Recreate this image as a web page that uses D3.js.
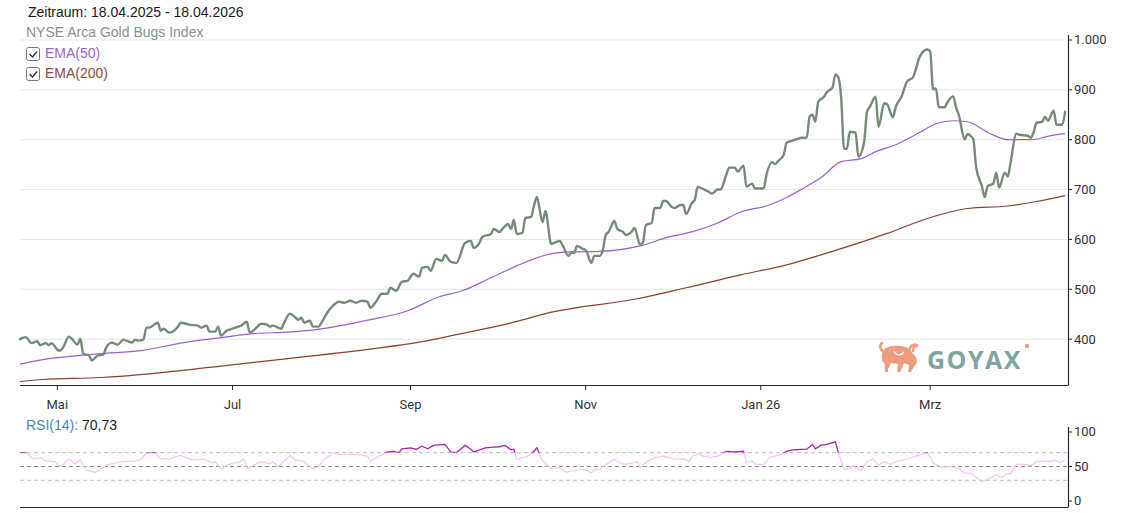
<!DOCTYPE html>
<html>
<head>
<meta charset="utf-8">
<script src="https://cdn.jsdelivr.net/npm/d3@7"></script>
<style>
  body { margin: 0; background: #fff; }
  svg { display: block; }
</style>
</head>
<body>
<svg></svg>
<script>
// NYSE Arca Gold Bugs Index
var priceSeries = [
  ["2025-04-18",400],["2025-04-20",404],["2025-04-22",392],["2025-04-24",396],["2025-04-25",388],["2025-04-27",392],["2025-04-28",388],["2025-04-29",392],
  ["2025-05-01",379],["2025-05-02",377],["2025-05-03",383],["2025-05-05",405],["2025-05-06",401],["2025-05-08",389],["2025-05-09",401],["2025-05-10",371],
  ["2025-05-12",367],["2025-05-13",357],["2025-05-15",367],["2025-05-17",369],["2025-05-18",383],["2025-05-20",393],["2025-05-22",389],["2025-05-24",399],
  ["2025-05-25",397],["2025-05-27",393],["2025-05-28",399],["2025-05-29",397],["2025-05-31",399],
  ["2025-06-01",423],["2025-06-02",423],["2025-06-05",433],["2025-06-06",417],["2025-06-07",421],["2025-06-09",413],["2025-06-12",425],["2025-06-13",433],
  ["2025-06-16",429],["2025-06-19",427],["2025-06-20",423],["2025-06-22",427],["2025-06-23",415],["2025-06-25",415],["2025-06-26",425],["2025-06-27",407],
  ["2025-06-29",417],["2025-06-30",419],
  ["2025-07-03",425],["2025-07-04",427],["2025-07-06",435],["2025-07-07",413],["2025-07-09",421],["2025-07-11",431],["2025-07-13",429],["2025-07-14",425],
  ["2025-07-15",427],["2025-07-18",421],["2025-07-19",433],["2025-07-21",451],["2025-07-23",443],["2025-07-24",439],["2025-07-25",443],["2025-07-26",433],
  ["2025-07-28",437],["2025-07-29",425],["2025-07-31",425],
  ["2025-08-01",433],["2025-08-03",453],["2025-08-05",467],["2025-08-07",475],["2025-08-09",473],["2025-08-11",477],["2025-08-13",473],["2025-08-15",477],
  ["2025-08-17",475],["2025-08-18",463],["2025-08-20",475],["2025-08-22",491],["2025-08-24",491],["2025-08-25",503],["2025-08-27",497],["2025-08-29",515],
  ["2025-08-31",517],
  ["2025-09-01",525],["2025-09-02",531],["2025-09-04",525],["2025-09-05",543],["2025-09-07",545],["2025-09-08",537],["2025-09-10",561],["2025-09-12",557],
  ["2025-09-13",569],["2025-09-15",555],["2025-09-17",553],["2025-09-20",593],["2025-09-22",597],["2025-09-23",583],["2025-09-25",593],["2025-09-26",605],
  ["2025-09-29",611],["2025-09-30",621],
  ["2025-10-02",615],["2025-10-03",621],["2025-10-05",631],["2025-10-06",621],["2025-10-07",639],["2025-10-08",611],["2025-10-10",613],["2025-10-11",643],
  ["2025-10-13",645],["2025-10-14",667],["2025-10-15",685],["2025-10-17",635],["2025-10-18",657],["2025-10-20",591],["2025-10-21",593],["2025-10-23",597],
  ["2025-10-24",588],["2025-10-26",567],["2025-10-27",573],["2025-10-28",573],["2025-10-29",587],["2025-10-31",581],
  ["2025-11-01",579],["2025-11-03",553],["2025-11-04",567],["2025-11-06",567],["2025-11-07",579],["2025-11-08",609],["2025-11-09",615],["2025-11-11",637],
  ["2025-11-12",621],["2025-11-14",615],["2025-11-15",609],["2025-11-17",615],["2025-11-18",623],["2025-11-20",589],["2025-11-21",595],["2025-11-22",629],
  ["2025-11-24",633],["2025-11-25",663],["2025-11-27",663],["2025-11-28",677],["2025-11-29",677],
  ["2025-12-01",665],["2025-12-02",663],["2025-12-04",669],["2025-12-05",669],["2025-12-06",651],["2025-12-08",673],["2025-12-09",679],["2025-12-10",705],
  ["2025-12-12",701],["2025-12-14",695],["2025-12-15",692],["2025-12-17",700],["2025-12-18",700],["2025-12-20",730],["2025-12-21",744],["2025-12-23",744],
  ["2025-12-24",736],["2025-12-26",748],["2025-12-27",706],["2025-12-29",712],["2025-12-30",702],
  ["2026-01-01",702],["2026-01-02",703],["2026-01-03",730],["2026-01-05",755],["2026-01-06",751],["2026-01-07",757],["2026-01-09",770],["2026-01-10",794],
  ["2026-01-12",798],["2026-01-14",802],["2026-01-15",804],["2026-01-17",804],["2026-01-18",846],["2026-01-19",850],["2026-01-20",836],["2026-01-21",876],
  ["2026-01-23",886],["2026-01-24",895],["2026-01-26",905],["2026-01-27",931],["2026-01-28",925],["2026-01-29",884],["2026-01-30",782],["2026-01-31",782],
  ["2026-02-01",816],["2026-02-03",814],["2026-02-04",766],["2026-02-06",796],["2026-02-07",856],["2026-02-08",866],["2026-02-10",886],["2026-02-11",826],
  ["2026-02-13",873],["2026-02-14",871],["2026-02-16",845],["2026-02-17",866],["2026-02-19",886],["2026-02-21",917],["2026-02-23",925],["2026-02-24",941],
  ["2026-02-25",961],["2026-02-27",979],["2026-02-28",981],
  ["2026-03-01",977],["2026-03-02",901],["2026-03-03",903],["2026-03-04",865],["2026-03-06",865],["2026-03-07",875],["2026-03-09",887],["2026-03-10",865],
  ["2026-03-11",849],["2026-03-13",801],["2026-03-14",811],["2026-03-16",801],["2026-03-17",745],["2026-03-19",707],["2026-03-20",685],["2026-03-21",707],
  ["2026-03-23",712],["2026-03-24",734],["2026-03-25",704],["2026-03-27",734],["2026-03-28",726],["2026-03-29",754],["2026-03-31",812],
  ["2026-04-01",810],["2026-04-04",808],["2026-04-05",804],["2026-04-06",814],["2026-04-07",834],["2026-04-09",836],["2026-04-10",846],["2026-04-11",838],
  ["2026-04-13",858],["2026-04-14",830],["2026-04-16",830],["2026-04-17",856]
];

var ema50Series = [
  ["2025-04-18",350],["2025-04-25",358],["2025-05-10",368],["2025-05-16",371],["2025-05-30",377],["2025-06-14",393],["2025-06-27",403],
  ["2025-07-08",411],["2025-07-20",414],["2025-07-30",419],["2025-08-18",439],["2025-08-31",457],["2025-09-11",485],["2025-09-19",497],
  ["2025-09-29",523],["2025-10-08",547],["2025-10-19",570],["2025-10-27",575],["2025-11-06",576],["2025-11-20",587],["2025-11-30",605],
  ["2025-12-08",615],["2025-12-17",633],["2025-12-25",655],["2026-01-04",669],["2026-01-10",684],["2026-01-15",700],["2026-01-22",724],
  ["2026-01-29",756],["2026-02-05",762],["2026-02-10",776],["2026-02-17",790],["2026-02-27",820],["2026-03-03",832],["2026-03-09",838],
  ["2026-03-14",836],["2026-03-22",812],["2026-03-28",800],["2026-04-05",800],["2026-04-12",808],["2026-04-17",812]
];

var ema200Series = [
  ["2025-04-18",315],["2025-04-26",319],["2025-05-16",323],["2025-06-03",331],["2025-06-27",346],["2025-07-25",364],["2025-08-18",380],
  ["2025-09-05",395],["2025-09-17",409],["2025-10-05",431],["2025-10-21",455],["2025-11-19",481],["2025-12-06",503],["2025-12-25",529],
  ["2026-01-10",549],["2026-01-22",569],["2026-02-14",612],["2026-02-28",642],["2026-03-14",662],["2026-03-28",667],["2026-04-07",676],
  ["2026-04-17",688]
];

var rsiSeries = [
  ["2025-04-18",70],["2025-04-20",70],["2025-04-23",60.5],["2025-04-25",63],["2025-04-27",58],["2025-04-30",57],["2025-05-02",50],["2025-05-03",53],
  ["2025-05-05",61],["2025-05-07",54],["2025-05-09",59.5],["2025-05-11",45],["2025-05-14",41.5],["2025-05-16",45],["2025-05-18",52],["2025-05-21",55],
  ["2025-05-24",57],["2025-05-28",58],["2025-05-30",59.5],["2025-06-01",69],["2025-06-04",70],["2025-06-06",61],["2025-06-09",61],["2025-06-11",64],
  ["2025-06-13",66],["2025-06-16",61],["2025-06-18",59.5],["2025-06-21",60.5],["2025-06-24",55.7],["2025-06-25",57],["2025-06-27",46],["2025-06-29",52],
  ["2025-07-02",55.7],["2025-07-03",55.7],["2025-07-05",61],["2025-07-06",47],["2025-07-09",53],["2025-07-11",57],["2025-07-14",54],["2025-07-15",57],
  ["2025-07-17",50],["2025-07-19",58],["2025-07-21",66],["2025-07-23",59.5],["2025-07-26",57],["2025-07-27",53],["2025-07-29",47],["2025-07-31",50],
  ["2025-08-02",60.5],["2025-08-05",69],["2025-08-08",67.6],["2025-08-13",67.6],["2025-08-17",65],["2025-08-18",57],["2025-08-21",65],["2025-08-24",71],
  ["2025-08-26",72],["2025-08-28",70],["2025-08-29",75.7],["2025-09-01",77],["2025-09-03",75],["2025-09-05",79.5],["2025-09-07",75.7],["2025-09-09",80.5],
  ["2025-09-13",82],["2025-09-15",71],["2025-09-17",70],["2025-09-20",80.5],["2025-09-22",75],["2025-09-23",71],["2025-09-27",77],["2025-09-30",78],
  ["2025-10-02",78.6],["2025-10-04",80.5],["2025-10-06",74],["2025-10-07",75],["2025-10-08",60.5],["2025-10-12",65],["2025-10-14",72],["2025-10-15",77],
  ["2025-10-17",58],["2025-10-20",47],["2025-10-23",48],["2025-10-25",42],["2025-10-28",44],["2025-10-30",46],["2025-11-01",45],["2025-11-03",40.5],
  ["2025-11-04",45],["2025-11-06",46],["2025-11-08",53],["2025-11-11",60.5],["2025-11-13",55],["2025-11-15",53],["2025-11-19",57],["2025-11-20",48.6],
  ["2025-11-22",55.7],["2025-11-25",63],["2025-11-28",65],["2025-11-29",64],["2025-12-02",60.5],["2025-12-05",61],["2025-12-07",57],["2025-12-08",64],
  ["2025-12-10",68.6],["2025-12-12",65],["2025-12-14",63],["2025-12-17",65],["2025-12-20",72],["2025-12-23",71],["2025-12-26",72],["2025-12-27",55.7],
  ["2025-12-29",58],["2025-12-30",53],["2026-01-02",53],["2026-01-04",63],["2026-01-06",65],["2026-01-08",67.6],["2026-01-10",72],["2026-01-12",74],
  ["2026-01-17",75],["2026-01-19",82],["2026-01-20",75.7],["2026-01-22",81],["2026-01-24",82],["2026-01-27",85.7],["2026-01-28",70],["2026-01-30",46],
  ["2026-02-01",47],["2026-02-02",51],["2026-02-05",44],["2026-02-07",57],["2026-02-09",61],["2026-02-11",52],["2026-02-13",57],["2026-02-15",53],
  ["2026-02-17",57],["2026-02-21",60.5],["2026-02-24",65],["2026-02-28",70],["2026-03-02",55],["2026-03-05",48.6],["2026-03-08",50],["2026-03-11",47],
  ["2026-03-13",40.5],["2026-03-15",40.5],["2026-03-17",34],["2026-03-19",28],["2026-03-20",29.5],["2026-03-22",34],["2026-03-24",37.6],["2026-03-26",34],
  ["2026-03-28",40],["2026-03-29",39],["2026-03-31",53],["2026-04-03",53],["2026-04-05",51],["2026-04-07",57],["2026-04-10",58],["2026-04-12",57],
  ["2026-04-13",59.5],["2026-04-15",55.7],["2026-04-16",57],["2026-04-17",59.5]
];

var monthTicks = ["2025-05-01","2025-07-01","2025-09-01","2025-11-01","2026-01-01","2026-03-01"];
var monthLabels = ["Mai","Jul","Sep","Nov","Jan 26","Mrz"];
var priceTicks = [400, 500, 600, 700, 800, 900, 1000];
var rsiTicks = [0, 50, 100];
var rsiLevels = [30, 50, 70];
var rsiLast = "70,73";

var W = 1140, H = 513;
var left = 20, right = 1068;
var parse = d3.timeParse("%Y-%m-%d");
var deNum = d3.formatLocale({decimal: ",", thousands: ".", grouping: [3], currency: ["", "€"]}).format(",d");

var svg = d3.select("svg").attr("width", W).attr("height", H);

var x = d3.scaleTime()
  .domain([parse("2025-04-18"), parse("2026-04-18")])
  .range([left, right]);

var y = d3.scaleLinear().domain([308, 1010]).range([385, 35]);
var yr = d3.scaleLinear().domain([-8.7, 107.2]).range([507, 427]);

var axisColor = "#1f2a36";
var tickFont = "Roboto, 'Liberation Sans', Arial, sans-serif";
var textFont = "'Liberation Sans', Arial, sans-serif";

// grid
svg.append("g")
  .selectAll("line")
  .data(priceTicks)
  .enter()
  .append("line")
  .attr("x1", left).attr("x2", right)
  .attr("y1", function(d) { return y(d); })
  .attr("y2", function(d) { return y(d); })
  .attr("stroke", "#e6e6e6")
  .attr("stroke-width", 1);

// logo (bull + wordmark)
var logo = svg.append("g").attr("transform", "translate(879,341)");
logo.append("path")
  .attr("d", "M4,10 C7,5 14,4 21,5 C25,5 28,6 31,9 L36,15 C39,19 38,24 35,25 L32,31 L29,31 L30,24 L25,22 L23,27 L21,31 L18,31 L19,23 L12,22 L9,28 L9,31 L6,31 L6,23 C2,20 2,14 4,10 Z")
  .attr("fill", "#ec9c80");
logo.append("path")
  .attr("d", "M30,10 C31,4 36,2 39,5 C37,4 34,6 34,10 M5,11 C1,9 0,5 3,2")
  .attr("stroke", "#ec9c80").attr("stroke-width", 2.5).attr("fill", "none")
  .attr("stroke-linecap", "round");
logo.append("path")
  .attr("d", "M15,10 C17,15 22,15 25,11")
  .attr("stroke", "#fff").attr("stroke-width", 1.4).attr("fill", "none");
svg.append("text")
  .attr("x", 927).attr("y", 369)
  .attr("font-family", "'Open Sans', 'Liberation Sans', Arial, sans-serif")
  .attr("font-weight", "bold").attr("font-size", 25)
  .attr("letter-spacing", 1.5)
  .attr("fill", "#7fa5a2")
  .text("GOYAX");
svg.append("circle").attr("cx", 1027).attr("cy", 346).attr("r", 2.2).attr("fill", "#ec9c80");

// lines
function lineFor(scaleY) {
  return d3.line()
    .x(function(d) { return x(parse(d[0])); })
    .y(function(d) { return scaleY(d[1]); });
}

svg.append("path")
  .datum(ema200Series)
  .attr("d", lineFor(y).curve(d3.curveMonotoneX))
  .attr("fill", "none").attr("stroke", "#8e3f30").attr("stroke-width", 1.2);

svg.append("path")
  .datum(ema50Series)
  .attr("d", lineFor(y).curve(d3.curveMonotoneX))
  .attr("fill", "none").attr("stroke", "#9c5fd3").attr("stroke-width", 1.2);

svg.append("path")
  .datum(priceSeries)
  .attr("d", lineFor(y).curve(d3.curveMonotoneX))
  .attr("fill", "none").attr("stroke", "#768a78").attr("stroke-width", 2.4)
  .attr("stroke-linejoin", "round").attr("stroke-linecap", "round");

// price axes
svg.append("line")
  .attr("x1", left).attr("x2", right).attr("y1", 385.5).attr("y2", 385.5)
  .attr("stroke", axisColor).attr("stroke-width", 1.2);
svg.append("line")
  .attr("x1", right + 0.5).attr("x2", right + 0.5).attr("y1", 35).attr("y2", 385.5)
  .attr("stroke", axisColor).attr("stroke-width", 1.2);

var yTicks = svg.append("g").selectAll("g").data(priceTicks).enter().append("g");
yTicks.append("line")
  .attr("x1", right).attr("x2", right + 4)
  .attr("y1", function(d) { return y(d); }).attr("y2", function(d) { return y(d); })
  .attr("stroke", axisColor);
yTicks.append("text")
  .attr("x", right + 6)
  .attr("y", function(d) { return y(d) + 4.5; })
  .attr("font-family", tickFont).attr("font-size", 13).attr("fill", "#333")
  .text(function(d) { return deNum(d); });

var xTicks = svg.append("g").selectAll("g").data(monthTicks).enter().append("g");
xTicks.append("line")
  .attr("x1", function(d) { return x(parse(d)); }).attr("x2", function(d) { return x(parse(d)); })
  .attr("y1", 385).attr("y2", 390)
  .attr("stroke", axisColor);
xTicks.append("text")
  .attr("x", function(d) { return x(parse(d)); })
  .attr("y", 409)
  .attr("text-anchor", "middle")
  .attr("font-family", tickFont).attr("font-size", 13).attr("fill", "#333")
  .text(function(d, i) { return monthLabels[i]; });

// header + legend
svg.append("text")
  .attr("x", 28).attr("y", 17)
  .attr("font-family", textFont).attr("font-size", 14).attr("fill", "#1a1a1a")
  .text("Zeitraum: 18.04.2025 - 18.04.2026");
svg.append("text")
  .attr("x", 26).attr("y", 37)
  .attr("font-family", textFont).attr("font-size", 14).attr("fill", "#8a918a")
  .text("NYSE Arca Gold Bugs Index");

var legend = [["EMA(50)", "#9c63cf", 47], ["EMA(200)", "#8e4a3c", 67]];
var lg = svg.append("g").selectAll("g").data(legend).enter().append("g");
lg.append("rect")
  .attr("x", 26.5).attr("y", function(d) { return d[2] + 0.5; })
  .attr("width", 13).attr("height", 13).attr("rx", 2)
  .attr("fill", "#fff").attr("stroke", "#777");
lg.append("path")
  .attr("d", function(d) { return "M29.5," + (d[2] + 7) + " L32.5," + (d[2] + 10) + " L37," + (d[2] + 4.5); })
  .attr("fill", "none").attr("stroke", "#333").attr("stroke-width", 1.3);
lg.append("text")
  .attr("x", 45).attr("y", function(d) { return d[2] + 11; })
  .attr("font-family", textFont).attr("font-size", 14)
  .attr("fill", function(d) { return d[1]; })
  .text(function(d) { return d[0]; });

// RSI panel
var rsiTitle = svg.append("text")
  .attr("x", 26).attr("y", 430)
  .attr("font-family", textFont).attr("font-size", 14);
rsiTitle.append("tspan").attr("fill", "#4a86b8").text("RSI(14):");
rsiTitle.append("tspan").attr("fill", "#1a1a1a").text(" " + rsiLast);

svg.append("g").selectAll("line").data(rsiLevels).enter().append("line")
  .attr("x1", left).attr("x2", right)
  .attr("y1", function(d) { return yr(d); }).attr("y2", function(d) { return yr(d); })
  .attr("stroke", function(d) { return d === 50 ? "#8a8a8a" : "#bdbdbd"; })
  .attr("stroke-dasharray", "4,3");

var defs = svg.append("defs");
defs.append("clipPath").attr("id", "rsiHigh").append("rect")
  .attr("x", left).attr("y", 420).attr("width", right - left).attr("height", yr(70) - 420);
defs.append("clipPath").attr("id", "rsiLow").append("rect")
  .attr("x", left).attr("y", yr(70)).attr("width", right - left).attr("height", 510 - yr(70));

svg.append("path")
  .datum(rsiSeries)
  .attr("d", lineFor(yr))
  .attr("clip-path", "url(#rsiLow)")
  .attr("fill", "none").attr("stroke", "#f6c3f6").attr("stroke-width", 1.2);
svg.append("path")
  .datum(rsiSeries)
  .attr("d", lineFor(yr))
  .attr("clip-path", "url(#rsiHigh)")
  .attr("fill", "none").attr("stroke", "#b020b0").attr("stroke-width", 1.3);

svg.append("line")
  .attr("x1", left).attr("x2", right).attr("y1", 507.5).attr("y2", 507.5)
  .attr("stroke", axisColor).attr("stroke-width", 1.2);
svg.append("line")
  .attr("x1", right + 0.5).attr("x2", right + 0.5).attr("y1", 427).attr("y2", 507.5)
  .attr("stroke", axisColor).attr("stroke-width", 1.2);

var rTicks = svg.append("g").selectAll("g").data(rsiTicks).enter().append("g");
rTicks.append("line")
  .attr("x1", right).attr("x2", right + 4)
  .attr("y1", function(d) { return yr(d); }).attr("y2", function(d) { return yr(d); })
  .attr("stroke", axisColor);
rTicks.append("text")
  .attr("x", right + 6)
  .attr("y", function(d) { return yr(d) + 4.5; })
  .attr("font-family", tickFont).attr("font-size", 13).attr("fill", "#333")
  .text(function(d) { return d; });
</script>
</body>
</html>
